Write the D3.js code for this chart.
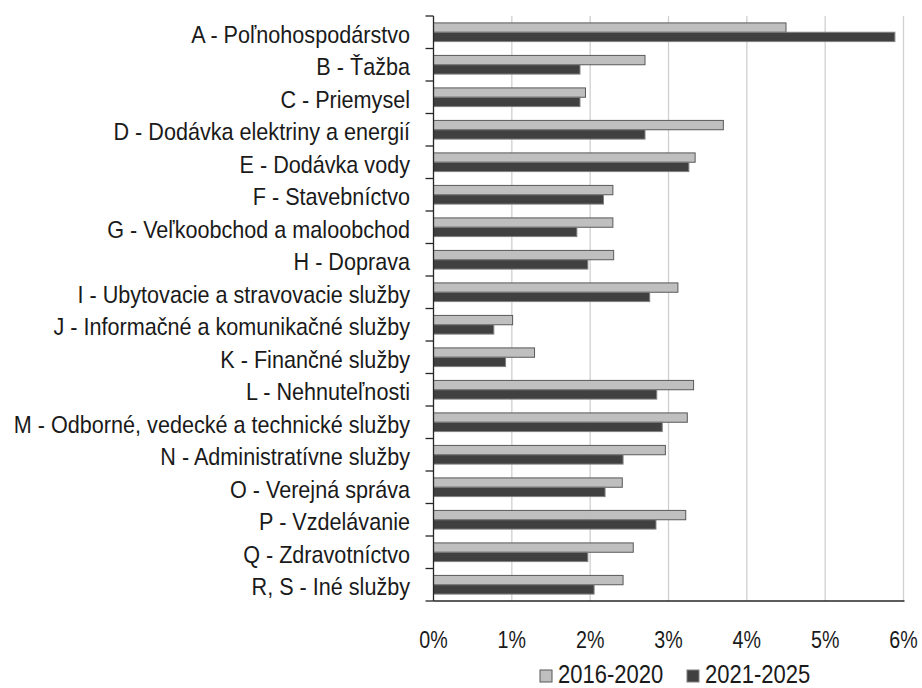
<!DOCTYPE html>
<html>
<head>
<meta charset="utf-8">
<script src="https://cdn.jsdelivr.net/npm/d3@7"></script>
<style>
  body { margin: 0; background: #fff; }
  text { font-family: "Liberation Sans", Arial, sans-serif; fill: #1a1a1a; }
</style>
</head>
<body>
<svg width="922" height="688"></svg>
<script>
// Data
var categories = [
  "A - Poľnohospodárstvo",
  "B - Ťažba",
  "C - Priemysel",
  "D - Dodávka elektriny a energií",
  "E - Dodávka vody",
  "F - Stavebníctvo",
  "G - Veľkoobchod a maloobchod",
  "H - Doprava",
  "I - Ubytovacie a stravovacie služby",
  "J - Informačné a komunikačné služby",
  "K - Finančné služby",
  "L - Nehnuteľnosti",
  "M - Odborné, vedecké a technické služby",
  "N - Administratívne služby",
  "O - Verejná správa",
  "P - Vzdelávanie",
  "Q - Zdravotníctvo",
  "R, S - Iné služby"
];
var seriesNames = ["2016-2020", "2021-2025"];
var values2016 = [4.50, 2.70, 1.94, 3.70, 3.34, 2.29, 2.29, 2.30, 3.12, 1.01, 1.29, 3.32, 3.24, 2.96, 2.41, 3.22, 2.55, 2.42];
var values2021 = [5.89, 1.87, 1.87, 2.70, 3.26, 2.17, 1.83, 1.97, 2.76, 0.77, 0.92, 2.85, 2.92, 2.42, 2.19, 2.84, 1.97, 2.05];
var xTicks = [0, 1, 2, 3, 4, 5, 6];

var fills = ["#bfbfbf", "#404040"];
var strokes = ["#595959", "#808080"];

var svg = d3.select("svg");
var margin = { top: 16, left: 433.5, right: 18, bottom: 87 };
var width = 922, height = 688;

var x = d3.scaleLinear().domain([0, 6]).range([margin.left, 903.5]);
var y = d3.scaleBand().domain(categories).range([margin.top, height - margin.bottom]);
var ySub = d3.scaleBand().domain(seriesNames).range([0, y.bandwidth()]).paddingInner(0).paddingOuter(0.74);

var rows = categories.map(function (c, i) {
  return { name: c, vals: [values2016[i], values2021[i]] };
});

// narrow text: the original font is condensed, so squeeze horizontally
function narrowText(sel, sx, size, anchor) {
  sel.append("text")
    .attr("transform", "scale(" + sx + ",1)")
    .attr("text-anchor", anchor)
    .attr("dominant-baseline", "central")
    .style("font-size", size + "px")
    .text(function (d) { return d.label || d; });
}

// gridlines
svg.append("g")
  .selectAll("line")
  .data(xTicks.slice(1))
  .enter()
  .append("line")
  .attr("x1", function (d) { return x(d); })
  .attr("x2", function (d) { return x(d); })
  .attr("y1", y.range()[0])
  .attr("y2", y.range()[1])
  .attr("stroke", "#d0d0d0")
  .attr("stroke-width", 1.3);

// bars
var groups = svg.append("g")
  .selectAll("g")
  .data(rows)
  .enter()
  .append("g")
  .attr("transform", function (d) { return "translate(0," + y(d.name) + ")"; });

groups.selectAll("rect")
  .data(function (d) { return d.vals.map(function (v, k) { return { s: seriesNames[k], v: v, k: k }; }); })
  .enter()
  .append("rect")
  .attr("x", x(0))
  .attr("y", function (d) { return ySub(d.s); })
  .attr("width", function (d) { return x(d.v) - x(0); })
  .attr("height", ySub.bandwidth())
  .attr("fill", function (d) { return fills[d.k]; })
  .attr("stroke", function (d) { return strokes[d.k]; })
  .attr("stroke-width", 1);

// bottom axis line
svg.append("line")
  .attr("x1", x(0)).attr("x2", x(6) + 1)
  .attr("y1", y.range()[1]).attr("y2", y.range()[1])
  .attr("stroke", "#262626").attr("stroke-width", 1.3);

// left axis with ticks between categories
var bounds = categories.map(function (c) { return y(c); }).concat([y.range()[1]]);
svg.append("line")
  .attr("x1", x(0)).attr("x2", x(0))
  .attr("y1", y.range()[0]).attr("y2", y.range()[1])
  .attr("stroke", "#262626").attr("stroke-width", 1.3);
svg.append("g")
  .selectAll("line")
  .data(bounds)
  .enter()
  .append("line")
  .attr("x1", x(0) - 8).attr("x2", x(0))
  .attr("y1", function (d) { return d; })
  .attr("y2", function (d) { return d; })
  .attr("stroke", "#262626").attr("stroke-width", 1.3);

// category labels
var catLabels = svg.append("g")
  .selectAll("g")
  .data(categories)
  .enter()
  .append("g")
  .attr("transform", function (d) { return "translate(410," + (y(d) + y.bandwidth() / 2 + 2) + ")"; });
narrowText(catLabels, 0.9, 24, "end");

// x tick labels
var tickLabels = svg.append("g")
  .selectAll("g")
  .data(xTicks.map(function (t) { return { label: t + "%", v: t }; }))
  .enter()
  .append("g")
  .attr("transform", function (d) { return "translate(" + x(d.v) + ",640)"; });
narrowText(tickLabels, 0.82, 24, "middle");

// legend
var legendX = [540, 687];
var legend = svg.append("g")
  .selectAll("g")
  .data(seriesNames)
  .enter()
  .append("g")
  .attr("transform", function (d, i) { return "translate(" + legendX[i] + ",675)"; });
legend.append("rect")
  .attr("x", 0).attr("y", -5)
  .attr("width", 12).attr("height", 12)
  .attr("fill", function (d, i) { return fills[i]; })
  .attr("stroke", function (d, i) { return strokes[i]; });
var legendText = legend.append("g").attr("transform", "translate(18,0)");
narrowText(legendText, 0.88, 25, "start");
</script>
</body>
</html>
